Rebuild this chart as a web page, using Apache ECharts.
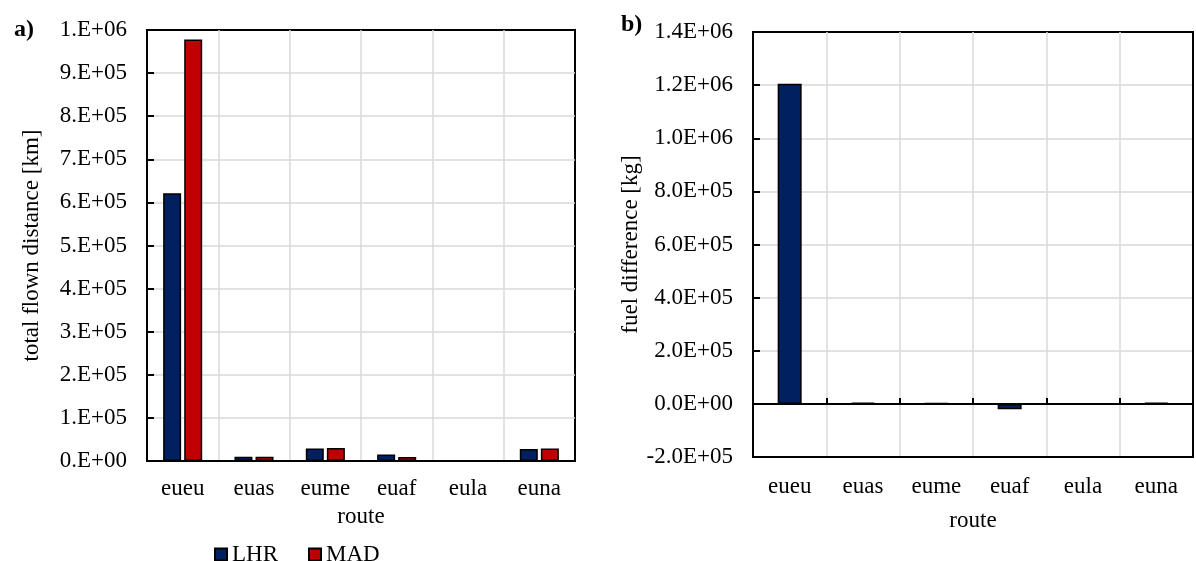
<!DOCTYPE html>
<html>
<head>
<meta charset="utf-8">
<script src="https://cdn.jsdelivr.net/npm/echarts@6/dist/echarts.min.js"></script>
<style>
  html, body { margin: 0; padding: 0; background: #fff; }
  #chart { width: 1196px; height: 561px; }
</style>
</head>
<body>
<div id="chart"></div>
<script>
  // route categories (same for both panels)
  const routes = ['eueu', 'euas', 'eume', 'euaf', 'eula', 'euna']
  // a) total flown distance [km]
  const lhrDistance = [621000, 10000, 29000, 15000, 0, 28000]
  const madDistance = [978000, 10000, 30000, 9000, 0, 29000]
  // b) fuel difference [kg]
  const fuelDiff = [1205000, 5000, 3000, -20000, 0, 4000]

  const font = 'Liberation Serif'
  const navy = '#002060'
  const red = '#C00000'
  const gridGrey = '#d9d9d9'

  function pad2 (n) { return (n < 10 ? '0' : '') + n }

  // 1.E+05 style
  function fmtA (v) {
    if (v === 0) return '0.E+00'
    let e = Math.floor(Math.log10(v) + 1e-9)
    let m = Math.round(v / Math.pow(10, e))
    return m + '.E+' + pad2(e)
  }
  // 1.4E+06 style
  function fmtB (v) {
    if (v === 0) return '0.0E+00'
    let sign = v < 0 ? '-' : ''
    let a = Math.abs(v)
    let e = Math.floor(Math.log10(a) + 1e-9)
    let m = (a / Math.pow(10, e)).toFixed(1)
    return sign + m + 'E+' + pad2(e)
  }

  const chart = echarts.init(document.getElementById('chart'))

  const labelStyle = { fontFamily: font, fontSize: 23, color: '#000' }
  const split = { show: true, showMinLine: false, showMaxLine: false, lineStyle: { color: gridGrey, width: 1.5 } }
  const blackLine = { color: '#000', width: 2 }

  let options = {
    animation: false,
    title: [
      { text: 'a)', left: 9, top: 13, textStyle: { fontFamily: font, fontSize: 24, fontWeight: 'bold', color: '#000' } },
      { text: 'b)', left: 616, top: 8, textStyle: { fontFamily: font, fontSize: 24, fontWeight: 'bold', color: '#000' } }
    ],
    legend: {
      data: ['LHR', 'MAD'],
      left: 209,
      top: 538,
      itemWidth: 12,
      itemHeight: 12,
      itemGap: 30,
      icon: 'rect',
      textStyle: labelStyle
    },
    grid: [
      { left: 147, top: 30, width: 428, height: 431, show: true, borderColor: '#000', borderWidth: 2, backgroundColor: 'transparent' },
      { left: 753, top: 32, width: 440, height: 425, show: true, borderColor: '#000', borderWidth: 2, backgroundColor: 'transparent' }
    ],
    xAxis: [
      {
        gridIndex: 0,
        type: 'category',
        data: routes,
        name: 'route',
        nameLocation: 'middle',
        nameGap: 44,
        nameTextStyle: labelStyle,
        axisLine: { lineStyle: blackLine },
        axisTick: { inside: true, length: 6, lineStyle: blackLine },
        axisLabel: Object.assign({ margin: 16 }, labelStyle),
        splitLine: split
      },
      {
        gridIndex: 1,
        type: 'category',
        data: routes,
        position: 'bottom',
        name: 'route',
        nameLocation: 'middle',
        nameGap: 52,
        nameTextStyle: labelStyle,
        axisLine: { onZero: false, lineStyle: blackLine },
        axisTick: { show: false },
        axisLabel: Object.assign({ margin: 18 }, labelStyle),
        splitLine: split
      },
      {
        // zero line with its small ticks
        gridIndex: 1,
        type: 'category',
        data: routes,
        position: 'top',
        axisLine: { onZero: true, onZeroAxisIndex: 1, lineStyle: blackLine },
        axisTick: { show: true, inside: false, length: 6, lineStyle: blackLine },
        axisLabel: { show: false },
        splitLine: { show: false }
      }
    ],
    yAxis: [
      {
        gridIndex: 0,
        type: 'value',
        min: 0,
        max: 1000000,
        interval: 100000,
        name: 'total flown distance [km]',
        nameLocation: 'middle',
        nameGap: 104,
        nameTextStyle: labelStyle,
        axisLine: { show: true, lineStyle: blackLine },
        axisTick: { show: true, inside: true, length: 7, lineStyle: blackLine },
        axisLabel: Object.assign({ margin: 20, formatter: fmtA }, labelStyle),
        splitLine: split
      },
      {
        gridIndex: 1,
        type: 'value',
        min: -200000,
        max: 1400000,
        interval: 200000,
        name: 'fuel difference [kg]',
        nameLocation: 'middle',
        nameGap: 108,
        nameTextStyle: labelStyle,
        axisLine: { show: true, lineStyle: blackLine },
        axisTick: { show: true, inside: true, length: 7, lineStyle: blackLine },
        axisLabel: Object.assign({ margin: 20, formatter: fmtB }, labelStyle),
        splitLine: split
      },
      {
        // right frame edge of panel b
        gridIndex: 1,
        type: 'value',
        position: 'right',
        min: -200000,
        max: 1400000,
        interval: 200000,
        axisLine: { show: true, lineStyle: blackLine },
        axisTick: { show: false },
        axisLabel: { show: false },
        splitLine: { show: false }
      }
    ],
    series: [
      {
        name: 'LHR',
        type: 'bar',
        xAxisIndex: 0,
        yAxisIndex: 0,
        barWidth: 18,
        barGap: '17%',
        itemStyle: { color: navy, borderColor: '#000', borderWidth: 1.5 },
        data: lhrDistance
      },
      {
        name: 'MAD',
        type: 'bar',
        xAxisIndex: 0,
        yAxisIndex: 0,
        barWidth: 18,
        barGap: '17%',
        itemStyle: { color: red, borderColor: '#000', borderWidth: 1.5 },
        data: madDistance
      },
      {
        name: 'fuel difference',
        type: 'bar',
        xAxisIndex: 1,
        yAxisIndex: 1,
        barWidth: 24,
        itemStyle: { color: navy, borderColor: '#000', borderWidth: 1.5 },
        data: fuelDiff
      }
    ]
  }
  chart.setOption(options)
</script>
</body>
</html>
